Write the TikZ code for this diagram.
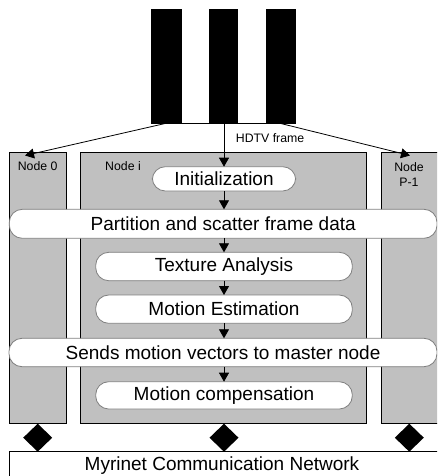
\documentclass[tikz,border=0pt]{standalone}
\usepackage{fontspec}
\setmainfont{Liberation Sans}
\usetikzlibrary{arrows.meta,shapes.geometric}
\definecolor{boxgray}{HTML}{C0C0C0}
\definecolor{pillline}{HTML}{808080}
\tikzset{
  procbox/.style={draw=black,fill=boxgray,line width=0.8pt,inner sep=0pt,outer sep=0pt},
  pill/.style={draw=pillline,fill=white,line width=0.8pt,rounded corners=13pt,inner sep=0pt,outer sep=0pt,font=\fontsize{19}{22}\selectfont},
  small/.style={font=\fontsize{12.3}{15}\selectfont,inner sep=0pt},
  link/.style={-{Triangle[length=9pt,width=10pt]},line width=0.8pt},
  joint/.style={diamond,fill=black,inner sep=0pt,outer sep=0pt,minimum width=29pt,minimum height=28pt}
}
\begin{document}
\begin{tikzpicture}[x=1pt,y=-1pt]
\useasboundingbox (0,0) rectangle (437,476);
\clip (0,0) rectangle (437,476);
% frame
\node[draw=black,fill=black,line width=0.8pt,minimum width=144pt,minimum height=114.3pt,inner sep=0pt,outer sep=0pt] (frame) at (223.7,66.2) {};
\fill[white] (181.7,9) rectangle (209.3,123.3);
\fill[white] (238.3,9) rectangle (266.3,123.3);
% processor boxes
\node[procbox,minimum width=57.7pt,minimum height=271.4pt] (n0) at (37.85,288) {};
\node[procbox,minimum width=286pt,minimum height=271.4pt] (ni) at (223.7,288) {};
\node[procbox,minimum width=89pt,minimum height=271.4pt] (np) at (425.5,288) {};
\node[small] (l0) at (37.7,166) {Node 0};
\node[small] (li) at (123,166) {Node i};
\node[small,align=center] (lp) at (409,174.5) {Node\\P-1};
% network
\node[draw=black,fill=white,line width=0.8pt,minimum width=461pt,minimum height=50pt,inner sep=0pt,outer sep=0pt] (net) at (239.5,476.7) {};
\node[font=\fontsize{19}{22}\selectfont,inner sep=0pt] (netl) at (222,466) {Myrinet Communication Network};
% joints
\node[joint] (j0) at (37.7,437.7) {};
\node[joint] (ji) at (224,437.7) {};
\node[joint] (jp) at (409.3,437.7) {};
% steps
\node[pill,minimum width=143.4pt,minimum height=24.3pt] (init) at (224,178.85) {Initialization};
\node[pill,minimum width=427.7pt,minimum height=29pt] (part) at (223.15,223.8) {Partition and scatter frame data};
\node[pill,minimum width=256.6pt,minimum height=28.4pt] (tex) at (224,266.5) {Texture Analysis};
\node[pill,minimum width=256.6pt,minimum height=28.3pt] (me) at (224,309.15) {Motion Estimation};
\node[pill,minimum width=428pt,minimum height=28.4pt] (send) at (223,352.5) {Sends motion vectors to master node};
\node[pill,minimum width=256.6pt,minimum height=27.3pt] (mc) at (224,395.35) {Motion compensation};
% arrows
\coordinate (fl) at (166,123.3);
\coordinate (fc) at (224,123.3);
\coordinate (fr) at (280,123.3);
\coordinate (t0) at (25,155.5);
\coordinate (tp) at (410,155.5);
\draw[link] (fl) -- (t0);
\draw[link] (fr) -- (tp);
\draw[link] (fc) -- (init.north -| fc);
\node[small,anchor=west] (hd) at (235.7,137.7) {HDTV frame};
\draw[link] (init.south -| fc) -- (part.north -| fc);
\draw[link] (part.south -| fc) -- (tex.north -| fc);
\draw[link] (tex.south -| fc) -- (me.north -| fc);
\draw[link] (me.south -| fc) -- (send.north -| fc);
\draw[link] (send.south -| fc) -- (mc.north -| fc);
\end{tikzpicture}
\end{document}
